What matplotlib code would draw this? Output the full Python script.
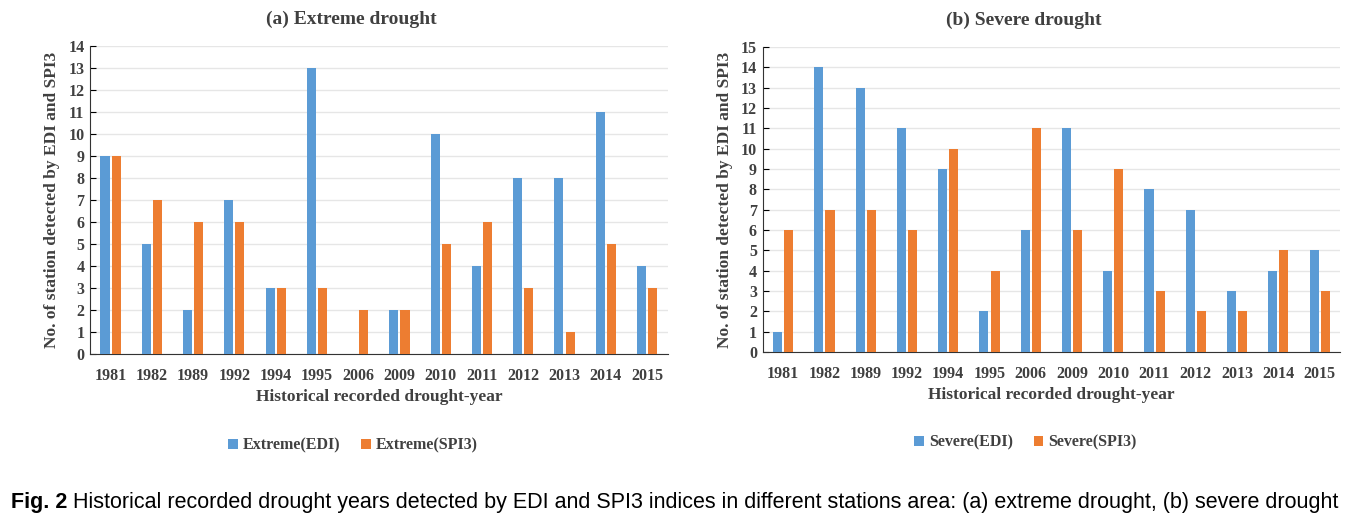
import numpy as np
import matplotlib.pyplot as plt

years = ['1981', '1982', '1989', '1992', '1994', '1995', '2006',
         '2009', '2010', '2011', '2012', '2013', '2014', '2015']
extreme_edi = [9, 5, 2, 7, 3, 13, 0, 2, 10, 4, 8, 8, 11, 4]
extreme_spi3 = [9, 7, 6, 6, 3, 3, 2, 2, 5, 6, 3, 1, 5, 3]
severe_edi = [1, 14, 13, 11, 9, 2, 6, 11, 4, 8, 7, 3, 4, 5]
severe_spi3 = [6, 7, 7, 6, 10, 4, 11, 6, 9, 3, 2, 2, 5, 3]

blue = '#5B9BD5'
orange = '#ED7D31'
txt = '#404040'
serif = ['Liberation Serif', 'DejaVu Serif']
sans = ['Liberation Sans', 'DejaVu Sans']

fig = plt.figure(figsize=(13.69, 5.22), dpi=100)
ax1 = fig.add_axes([0.0657, 0.322, 0.422, 0.590])
ax2 = fig.add_axes([0.557, 0.326, 0.422, 0.584])


def panel(ax, edi, spi, ymax, title, lab1, lab2):
    x = np.arange(len(years))
    w = 0.22
    ax.bar(x - 0.135, edi, w, color=blue, label=lab1, zorder=3)
    ax.bar(x + 0.135, spi, w, color=orange, label=lab2, zorder=3)
    ax.set_xlim(-0.5, len(years) - 0.5)
    ax.set_ylim(0, ymax)
    ax.set_yticks(range(ymax + 1))
    ax.set_xticks(x)
    ax.set_xticklabels(years)
    ax.grid(axis='y', color='#e6e6e6', lw=1, zorder=0)
    for s in ['top', 'right']:
        ax.spines[s].set_visible(False)
    ax.spines['left'].set_color('#333333')
    ax.spines['bottom'].set_color('#333333')
    ax.tick_params(axis='x', length=0, pad=10)
    ax.tick_params(axis='y', length=4, direction='in', pad=4)
    for t in ax.get_xticklabels() + ax.get_yticklabels():
        t.set_fontfamily(serif)
        t.set_fontweight('bold')
        t.set_fontsize(11.5)
        t.set_color(txt)
    ax.set_title(title, family=serif, fontweight='bold', fontsize=14,
                 color=txt, pad=16, x=0.452)
    ax.set_xlabel('Historical recorded drought-year', family=serif,
                  fontweight='bold', fontsize=12.5, color=txt, labelpad=4)
    ax.set_ylabel('No. of station detected by EDI and SPI3', family=serif,
                  fontweight='bold', fontsize=12.5, color=txt, labelpad=6)
    ax.legend(loc='upper center', bbox_to_anchor=(0.455, -0.225), ncol=2,
              frameon=False, handlelength=0.6, handleheight=0.6,
              handletextpad=0.3, columnspacing=1.3,
              prop={'family': serif, 'weight': 'bold', 'size': 11.5})
    for t in ax.get_legend().get_texts():
        t.set_color(txt)


panel(ax1, extreme_edi, extreme_spi3, 14, '(a) Extreme drought',
      'Extreme(EDI)', 'Extreme(SPI3)')
panel(ax2, severe_edi, severe_spi3, 15, '(b) Severe drought',
      'Severe(EDI)', 'Severe(SPI3)')

fig.text(0.008, 0.026, 'Fig. 2', family=sans,
         fontweight='bold', fontsize=15.5, color='black')
fig.text(0.053, 0.026,
         'Historical recorded drought years detected by EDI and SPI3 indices in '
         'different stations area: (a) extreme drought, (b) severe drought',
         family=sans, fontsize=15.5, color='black')

fig.savefig('out.png', dpi=100)
